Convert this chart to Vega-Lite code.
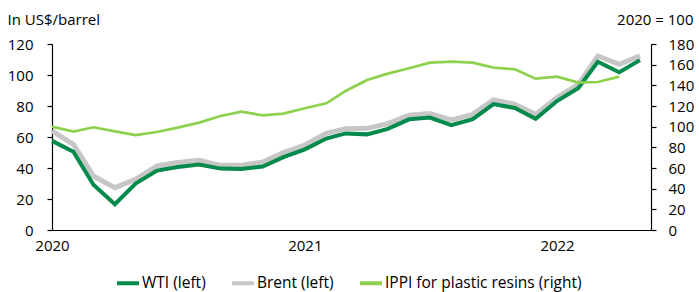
{
  "$schema": "https://vega.github.io/schema/vega-lite/v6.json",
  "width": 599,
  "height": 186,
  "autosize": {"type": "none"},
  "padding": {"left": 52, "top": 44, "right": 48, "bottom": 62},
  "config": {
    "font": "Open Sans",
    "view": {"stroke": null},
    "axis": {
      "grid": false,
      "labelFont": "Open Sans",
      "labelFontSize": 15,
      "labelColor": "#000000",
      "titleFont": "Open Sans",
      "titleFontSize": 15,
      "titleFontWeight": "normal",
      "titleColor": "#000000",
      "domainColor": "#000000",
      "tickColor": "#000000",
      "domainWidth": 1.2,
      "tickWidth": 1.2
    },
    "legend": {
      "orient": "none",
      "legendX": 63,
      "legendY": 226,
      "direction": "horizontal",
      "symbolType": "stroke",
      "symbolSize": 484,
      "symbolStrokeWidth": 4,
      "labelFont": "Open Sans",
      "labelFontSize": 15.5,
      "labelColor": "#000000",
      "labelOffset": 1,
      "labelLimit": 400,
      "columnPadding": 18,
      "title": null
    }
  },
  "datasets": {
    "oil": [
      {"date": "2020-01-01", "series": "WTI (left)", "value": 57.5},
      {"date": "2020-02-01", "series": "WTI (left)", "value": 50.5},
      {"date": "2020-03-01", "series": "WTI (left)", "value": 29.2},
      {"date": "2020-04-01", "series": "WTI (left)", "value": 16.6},
      {"date": "2020-05-01", "series": "WTI (left)", "value": 30.0},
      {"date": "2020-06-01", "series": "WTI (left)", "value": 38.3},
      {"date": "2020-07-01", "series": "WTI (left)", "value": 40.7},
      {"date": "2020-08-01", "series": "WTI (left)", "value": 42.3},
      {"date": "2020-09-01", "series": "WTI (left)", "value": 39.6},
      {"date": "2020-10-01", "series": "WTI (left)", "value": 39.4},
      {"date": "2020-11-01", "series": "WTI (left)", "value": 40.9},
      {"date": "2020-12-01", "series": "WTI (left)", "value": 47.0},
      {"date": "2021-01-01", "series": "WTI (left)", "value": 52.0},
      {"date": "2021-02-01", "series": "WTI (left)", "value": 59.0},
      {"date": "2021-03-01", "series": "WTI (left)", "value": 62.3},
      {"date": "2021-04-01", "series": "WTI (left)", "value": 61.7},
      {"date": "2021-05-01", "series": "WTI (left)", "value": 65.2},
      {"date": "2021-06-01", "series": "WTI (left)", "value": 71.4},
      {"date": "2021-07-01", "series": "WTI (left)", "value": 72.5},
      {"date": "2021-08-01", "series": "WTI (left)", "value": 67.7},
      {"date": "2021-09-01", "series": "WTI (left)", "value": 71.5},
      {"date": "2021-10-01", "series": "WTI (left)", "value": 81.2},
      {"date": "2021-11-01", "series": "WTI (left)", "value": 78.7},
      {"date": "2021-12-01", "series": "WTI (left)", "value": 71.7},
      {"date": "2022-01-01", "series": "WTI (left)", "value": 83.2},
      {"date": "2022-02-01", "series": "WTI (left)", "value": 91.6},
      {"date": "2022-03-01", "series": "WTI (left)", "value": 108.5},
      {"date": "2022-04-01", "series": "WTI (left)", "value": 101.8},
      {"date": "2022-05-01", "series": "WTI (left)", "value": 109.6},
      {"date": "2020-01-01", "series": "Brent (left)", "value": 63.9},
      {"date": "2020-02-01", "series": "Brent (left)", "value": 55.3},
      {"date": "2020-03-01", "series": "Brent (left)", "value": 34.8},
      {"date": "2020-04-01", "series": "Brent (left)", "value": 27.3},
      {"date": "2020-05-01", "series": "Brent (left)", "value": 32.7},
      {"date": "2020-06-01", "series": "Brent (left)", "value": 41.3},
      {"date": "2020-07-01", "series": "Brent (left)", "value": 43.5},
      {"date": "2020-08-01", "series": "Brent (left)", "value": 45.0},
      {"date": "2020-09-01", "series": "Brent (left)", "value": 41.7},
      {"date": "2020-10-01", "series": "Brent (left)", "value": 41.7},
      {"date": "2020-11-01", "series": "Brent (left)", "value": 43.9},
      {"date": "2020-12-01", "series": "Brent (left)", "value": 49.9},
      {"date": "2021-01-01", "series": "Brent (left)", "value": 54.8},
      {"date": "2021-02-01", "series": "Brent (left)", "value": 62.4},
      {"date": "2021-03-01", "series": "Brent (left)", "value": 65.4},
      {"date": "2021-04-01", "series": "Brent (left)", "value": 65.6},
      {"date": "2021-05-01", "series": "Brent (left)", "value": 68.6},
      {"date": "2021-06-01", "series": "Brent (left)", "value": 74.0},
      {"date": "2021-07-01", "series": "Brent (left)", "value": 75.1},
      {"date": "2021-08-01", "series": "Brent (left)", "value": 71.0},
      {"date": "2021-09-01", "series": "Brent (left)", "value": 74.6},
      {"date": "2021-10-01", "series": "Brent (left)", "value": 83.9},
      {"date": "2021-11-01", "series": "Brent (left)", "value": 81.1},
      {"date": "2021-12-01", "series": "Brent (left)", "value": 74.6},
      {"date": "2022-01-01", "series": "Brent (left)", "value": 85.4},
      {"date": "2022-02-01", "series": "Brent (left)", "value": 94.0},
      {"date": "2022-03-01", "series": "Brent (left)", "value": 112.3},
      {"date": "2022-04-01", "series": "Brent (left)", "value": 106.9},
      {"date": "2022-05-01", "series": "Brent (left)", "value": 112.3}
    ],
    "ippi": [
      {"date": "2020-01-01", "series": "IPPI for plastic resins (right)", "value": 100.1},
      {"date": "2020-02-01", "series": "IPPI for plastic resins (right)", "value": 95.2},
      {"date": "2020-03-01", "series": "IPPI for plastic resins (right)", "value": 99.4},
      {"date": "2020-04-01", "series": "IPPI for plastic resins (right)", "value": 95.5},
      {"date": "2020-05-01", "series": "IPPI for plastic resins (right)", "value": 91.9},
      {"date": "2020-06-01", "series": "IPPI for plastic resins (right)", "value": 94.8},
      {"date": "2020-07-01", "series": "IPPI for plastic resins (right)", "value": 99.1},
      {"date": "2020-08-01", "series": "IPPI for plastic resins (right)", "value": 103.9},
      {"date": "2020-09-01", "series": "IPPI for plastic resins (right)", "value": 110.3},
      {"date": "2020-10-01", "series": "IPPI for plastic resins (right)", "value": 114.6},
      {"date": "2020-11-01", "series": "IPPI for plastic resins (right)", "value": 111.0},
      {"date": "2020-12-01", "series": "IPPI for plastic resins (right)", "value": 112.6},
      {"date": "2021-01-01", "series": "IPPI for plastic resins (right)", "value": 117.8},
      {"date": "2021-02-01", "series": "IPPI for plastic resins (right)", "value": 122.6},
      {"date": "2021-03-01", "series": "IPPI for plastic resins (right)", "value": 134.5},
      {"date": "2021-04-01", "series": "IPPI for plastic resins (right)", "value": 145.2},
      {"date": "2021-05-01", "series": "IPPI for plastic resins (right)", "value": 151.3},
      {"date": "2021-06-01", "series": "IPPI for plastic resins (right)", "value": 156.5},
      {"date": "2021-07-01", "series": "IPPI for plastic resins (right)", "value": 162.0},
      {"date": "2021-08-01", "series": "IPPI for plastic resins (right)", "value": 163.0},
      {"date": "2021-09-01", "series": "IPPI for plastic resins (right)", "value": 162.0},
      {"date": "2021-10-01", "series": "IPPI for plastic resins (right)", "value": 157.2},
      {"date": "2021-11-01", "series": "IPPI for plastic resins (right)", "value": 155.5},
      {"date": "2021-12-01", "series": "IPPI for plastic resins (right)", "value": 146.5},
      {"date": "2022-01-01", "series": "IPPI for plastic resins (right)", "value": 148.4},
      {"date": "2022-02-01", "series": "IPPI for plastic resins (right)", "value": 142.6},
      {"date": "2022-03-01", "series": "IPPI for plastic resins (right)", "value": 143.2},
      {"date": "2022-04-01", "series": "IPPI for plastic resins (right)", "value": 148.4}
    ]
  },
  "encoding": {
    "x": {
      "field": "date",
      "type": "temporal",
      "scale": {"type": "utc", "domain": [{"year": 2020, "month": 1, "date": 1, "utc": true}, {"year": 2022, "month": 5, "date": 17, "utc": true}]},
      "axis": {
        "title": null,
        "values": [{"year": 2020, "month": 1, "date": 1, "utc": true}, {"year": 2021, "month": 1, "date": 1, "utc": true}, {"year": 2022, "month": 1, "date": 1, "utc": true}],
        "format": "%Y",
        "formatType": "utc",
        "ticks": false,
        "tickSize": 0,
        "labelPadding": 8,
        "labelFlush": false,
        "labelOverlap": false
      }
    },
    "color": {
      "field": "series",
      "type": "nominal",
      "scale": {
        "domain": ["WTI (left)", "Brent (left)", "IPPI for plastic resins (right)"],
        "range": ["#008A4B", "#C6C6C6", "#8DD14E"]
      },
      "legend": {}
    }
  },
  "layer": [
    {
      "data": {"name": "oil"},
      "encoding": {
        "y": {
          "field": "value",
          "type": "quantitative",
          "scale": {"domain": [0, 120], "nice": false, "zero": true},
          "axis": {
            "orient": "left",
            "values": [0, 20, 40, 60, 80, 100, 120],
            "tickSize": 5,
            "labelPadding": 14,
            "title": "In US$/barrel",
            "titleAngle": 0,
            "titleAlign": "left",
            "titleBaseline": "alphabetic",
            "titleX": -45,
            "titleY": -20
          }
        }
      },
      "layer": [
        {
          "transform": [{"filter": "datum.series === 'Brent (left)'"}],
          "mark": {"type": "line", "strokeWidth": 5}
        },
        {
          "transform": [{"filter": "datum.series === 'WTI (left)'"}],
          "mark": {"type": "line", "strokeWidth": 4}
        }
      ]
    },
    {
      "data": {"name": "ippi"},
      "mark": {"type": "line", "strokeWidth": 2.7},
      "encoding": {
        "y": {
          "field": "value",
          "type": "quantitative",
          "scale": {"domain": [0, 180], "nice": false, "zero": true},
          "axis": {
            "orient": "right",
            "values": [0, 20, 40, 60, 80, 100, 120, 140, 160, 180],
            "tickSize": 5,
            "labelPadding": 12,
            "title": "2020 = 100",
            "titleAngle": 0,
            "titleAlign": "right",
            "titleBaseline": "alphabetic",
            "titleX": 42,
            "titleY": -20
          }
        }
      }
    }
  ],
  "resolve": {"scale": {"y": "independent"}}
}
